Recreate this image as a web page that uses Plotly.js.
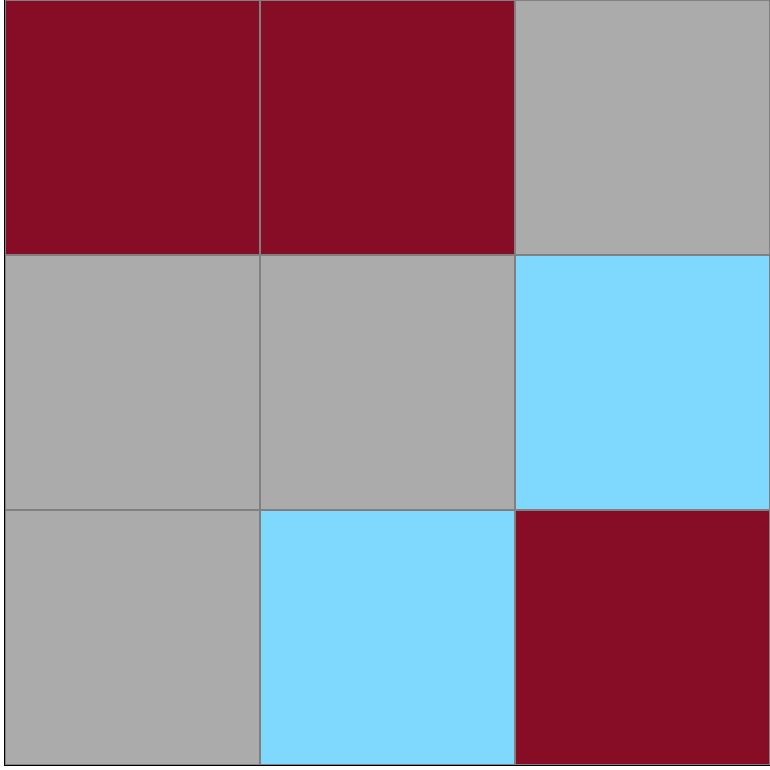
<!DOCTYPE html>
<html><head><meta charset="utf-8">
<script src="https://cdn.plot.ly/plotly-3.0.1.min.js"></script>
<style>html,body{margin:0;padding:0;background:#fff}</style>
</head><body><div id="chart" style="width:770px;height:770px"></div>
<script>
const xCats = ["A", "B", "C"];
const yCats = ["R1", "R2", "R3"];
const zRow1 = [1, 1, 0];
const zRow2 = [0, 0, -1];
const zRow3 = [0, -1, 1];

const trace = {
  type: "heatmap",
  x: xCats,
  y: yCats,
  z: [zRow1, zRow2, zRow3],
  zmin: -1, zmax: 1,
  colorscale: [[0, "#7FD9FF"], [0.333, "#7FD9FF"], [0.333, "#ABABAB"], [0.667, "#ABABAB"], [0.667, "#870C25"], [1, "#870C25"]],
  showscale: false,
  xgap: 2, ygap: 2,
  hoverinfo: "skip"
};
const layout = {
  width: 770, height: 770,
  margin: {l: 5, r: 0, t: 0, b: 5, pad: 0},
  paper_bgcolor: "#ffffff",
  plot_bgcolor: "#808080",
  xaxis: {showticklabels: false, ticks: "", showgrid: false, zeroline: false, showline: true, linecolor: "#000", linewidth: 1, mirror: true},
  yaxis: {autorange: "reversed", showticklabels: false, ticks: "", showgrid: false, zeroline: false, showline: true, linecolor: "#000", linewidth: 1, mirror: true}
};
Plotly.newPlot("chart", [trace], layout, {displayModeBar: false, staticPlot: true});
</script></body></html>
